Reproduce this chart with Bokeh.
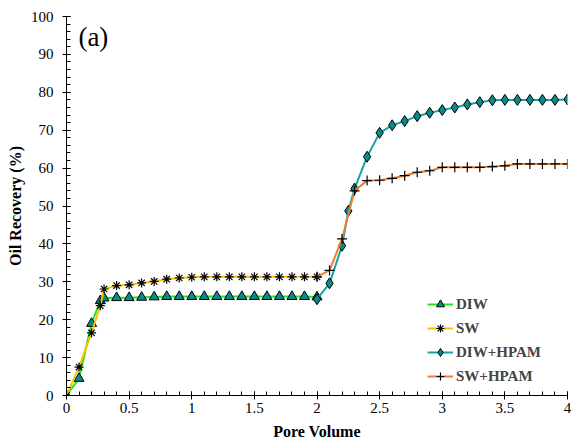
from bokeh.plotting import figure
from bokeh.models import SingleIntervalTicker, Range1d, Legend, LegendItem, Label
from bokeh.embed import file_html
from bokeh.resources import INLINE

# ---- data ----
x_diw = [0, 0.1, 0.2, 0.27, 0.3, 0.4, 0.5, 0.6, 0.7, 0.8, 0.9, 1.0, 1.1, 1.2, 1.3,
         1.4, 1.5, 1.6, 1.7, 1.8, 1.9, 2.0]
y_diw = [0, 4.5, 19.0, 25.0, 25.7, 25.8, 25.8, 25.9, 26.0, 26.1, 26.1, 26.1, 26.1, 26.1,
         26.1, 26.1, 26.1, 26.1, 26.1, 26.1, 26.1, 26.0]

x_sw = [0, 0.1, 0.2, 0.27, 0.3, 0.4, 0.5, 0.6, 0.7, 0.8, 0.9, 1.0, 1.1, 1.2, 1.3,
        1.4, 1.5, 1.6, 1.7, 1.8, 1.9, 2.0]
y_sw = [0, 7.5, 16.5, 23.7, 28.1, 29.0, 29.2, 29.7, 30.1, 30.7, 31.0, 31.2, 31.3, 31.3,
        31.3, 31.3, 31.3, 31.3, 31.3, 31.3, 31.3, 31.3]

x_dhp = [2.0, 2.1, 2.2, 2.25, 2.3, 2.4, 2.5, 2.6, 2.7, 2.8, 2.9, 3.0, 3.1, 3.2, 3.3,
         3.4, 3.5, 3.6, 3.7, 3.8, 3.9, 4.0]
y_dhp = [25.4, 29.6, 39.5, 48.7, 54.6, 63.0, 69.3, 71.3, 72.4, 73.7, 74.6, 75.3, 76.0,
         76.8, 77.4, 77.9, 78.0, 78.0, 78.0, 78.0, 78.0, 78.1]

x_shp = [2.0, 2.1, 2.2, 2.3, 2.4, 2.5, 2.6, 2.7, 2.8, 2.9, 3.0, 3.1, 3.2, 3.3,
         3.4, 3.5, 3.6, 3.7, 3.8, 3.9, 4.0]
y_shp = [31.3, 33.0, 41.3, 54.0, 56.7, 56.8, 57.3, 58.0, 58.9, 59.3, 60.2, 60.2, 60.2,
         60.2, 60.4, 60.6, 61.1, 61.1, 61.1, 61.1, 61.1]

labels = ["DIW", "SW", "DIW+HPAM", "SW+HPAM"]
x_ticks_interval = 0.5
y_ticks_interval = 10

FONT = "Liberation Serif"

p = figure(width=571, height=442, output_backend="svg", toolbar_location=None,
           x_range=Range1d(0, 4), y_range=Range1d(0, 100),
           min_border_left=66, min_border_right=4, min_border_top=16, min_border_bottom=46)
p.outline_line_color = None
p.xgrid.visible = False
p.ygrid.visible = False
p.background_fill_color = "white"

for ax, interval in ((p.xaxis[0], x_ticks_interval), (p.yaxis[0], y_ticks_interval)):
    ax.ticker = SingleIntervalTicker(interval=interval, num_minor_ticks=5)
    ax.major_tick_in = 4
    ax.major_tick_out = 4
    ax.minor_tick_in = 4
    ax.minor_tick_out = 0
    ax.axis_line_color = "black"
    ax.major_tick_line_color = "black"
    ax.minor_tick_line_color = "black"
    ax.major_label_text_font = FONT
    ax.major_label_text_font_size = "15px"
    ax.major_label_text_color = "black"
    ax.axis_label_text_font = FONT
    ax.axis_label_text_font_size = "16px"
    ax.axis_label_text_font_style = "bold"
    ax.axis_label_text_color = "black"

p.xaxis.axis_label = "Pore Volume"
p.yaxis.axis_label = "Oil Recovery (%)"
p.xaxis.major_label_standoff = 3
p.xaxis.axis_label_standoff = 7
p.yaxis.major_label_standoff = 9
p.yaxis.axis_label_standoff = 4

l1 = p.line(x_diw, y_diw, line_color="#22e022", line_width=2)
m1 = p.scatter(x_diw, y_diw, marker="triangle", size=10, fill_color="#0a8a8a", line_color="black", line_width=1)
l2 = p.line(x_sw, y_sw, line_color="#FFC000", line_width=2)
m2 = p.scatter(x_sw, y_sw, marker="asterisk", size=9, line_color="black", line_width=1.2)
l3 = p.line(x_dhp, y_dhp, line_color="#17a3a3", line_width=2)
m3 = p.scatter(x_dhp, y_dhp, marker="diamond", size=11, fill_color="#0a8a8a", line_color="black", line_width=1)
l4 = p.line(x_shp, y_shp, line_color="#ED7D31", line_width=2)
m4 = p.scatter(x_shp, y_shp, marker="cross", size=10, line_color="black", line_width=1.2)

items = [LegendItem(label=labels[0], renderers=[l1, m1]),
         LegendItem(label=labels[1], renderers=[l2, m2]),
         LegendItem(label=labels[2], renderers=[l3, m3]),
         LegendItem(label=labels[3], renderers=[l4, m4])]
legend = Legend(items=items, location=(361, 9), padding=0, margin=0, spacing=4,
                glyph_width=26, glyph_height=20, label_standoff=3,
                label_text_font=FONT, label_text_font_size="15px", label_text_font_style="bold",
                border_line_color=None, background_fill_alpha=0)
p.add_layout(legend, "center")

p.add_layout(Label(x=0.095, y=94.7, text="(a)", text_font=FONT, text_font_size="27px",
                   text_color="black", text_baseline="alphabetic"))

open("out.html", "w").write(file_html(p, INLINE))
